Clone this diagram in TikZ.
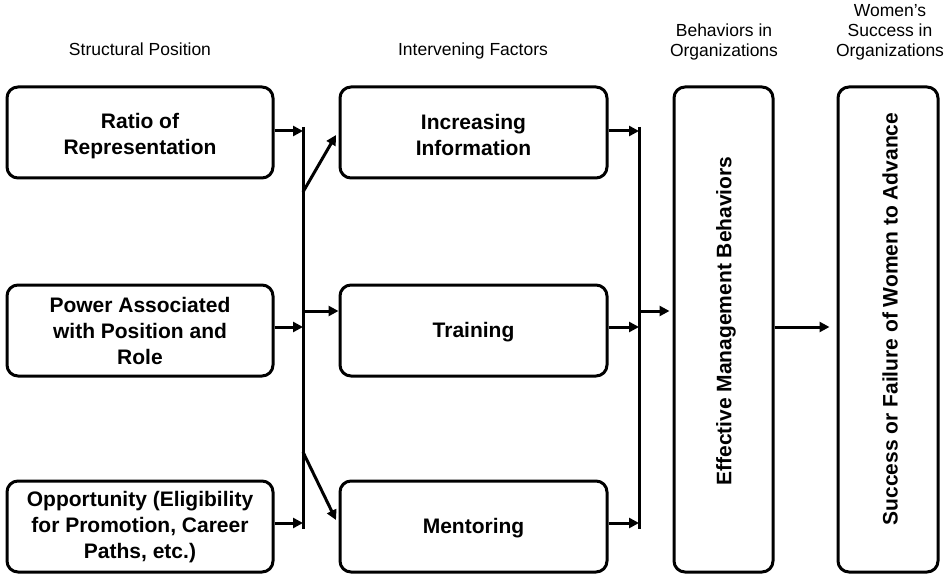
\documentclass[tikz,border=0pt]{standalone}
\usepackage{fontspec}
\setmainfont{Liberation Sans}
\usetikzlibrary{arrows.meta}
\begin{document}
\begin{tikzpicture}[x=1pt,y=-1pt,
  box/.style={draw=black,line width=3pt,rounded corners=11pt,align=center,
    font=\fontsize{21}{26}\selectfont\bfseries,inner sep=0pt},
  btxt/.style={font=\fontsize{21}{26}\selectfont\bfseries,align=center,inner sep=0pt},
  hdr/.style={align=center,font=\fontsize{17.5}{20}\selectfont,inner sep=0pt},
  ln/.style={line width=3pt},
  arr/.style={line width=3pt,-{Triangle[length=10pt,width=10pt]}}]
\useasboundingbox (0,0) rectangle (948,575);
% headers
\node[hdr,anchor=base] (h1) at (140,56) {Structural Position};
\node[hdr,anchor=base] (h2) at (473,56) {Intervening Factors};
\node[hdr,anchor=base] (h3) at (724,57) {Behaviors in\\Organizations};
\node[hdr,anchor=base] (h4) at (890,57) {Women’s\\Success in\\Organizations};
% left boxes
\node[box,minimum width=266pt,minimum height=91pt] (L1) at (140,132.5) {};
\node[btxt] (L1t) at (140,136) {Ratio of\\Representation};
\node[box,minimum width=266pt,minimum height=91pt] (L2) at (140,330.5) {};
\node[btxt] (L2t) at (140,331) {Power Associated\\with Position and\\Role};
\node[box,minimum width=266pt,minimum height=91pt] (L3) at (140,526.5) {};
\node[btxt] (L3t) at (140,527) {Opportunity (Eligibility\\for Promotion, Career\\Paths, etc.)};
% middle boxes
\node[box,minimum width=267pt,minimum height=91pt] (M1) at (473.5,132.5) {};
\node[btxt] (M1t) at (473.5,135) {Increasing\\Information};
\node[box,minimum width=267pt,minimum height=91pt] (M2) at (473.5,330.5) {};
\node[btxt] (M2t) at (473.5,332) {Training};
\node[box,minimum width=267pt,minimum height=91pt] (M3) at (473.5,526.5) {};
\node[btxt] (M3t) at (473.5,528) {Mentoring};
% tall boxes
\node[box,minimum width=99pt,minimum height=485pt] (E) at (723.5,329.5) {};
\node[btxt,rotate=90] (Et) at (726,321) {Effective Management Behaviors};
\node[box,minimum width=100pt,minimum height=485pt] (F) at (888,329.5) {};
\node[btxt,rotate=90] (Ft) at (890,319) {Success or Failure of Women to Advance};
% left junction
\coordinate (jLt) at (303,127);
\coordinate (jLb) at (303,529);
\draw[ln] (jLt) -- (jLb);
\draw[arr] (L1.east |- 0,131) -- (303,131);
\draw[arr] (L2.east |- 0,327) -- (303,327);
\draw[arr] (L3.east |- 0,523) -- (303,523);
\coordinate (dA) at (303,192);
\coordinate (dB) at (303,311);
\coordinate (dC) at (303,452);
\draw[arr] (dA) -- (336,135);
\draw[arr] (dB) -- (M2.west |- dB);
\draw[arr] (dC) -- (336,520);
% right junction
\coordinate (jRt) at (639,127);
\coordinate (jRb) at (639,529);
\draw[ln] (jRt) -- (jRb);
\draw[arr] (M1.east |- 0,131) -- (639,131);
\draw[arr] (M2.east |- 0,327) -- (639,327);
\draw[arr] (M3.east |- 0,523) -- (639,523);
\coordinate (rB) at (639,311);
\draw[arr,shorten >=3pt] (rB) -- (E.west |- rB);
\draw[arr,shorten >=7pt] (E.east |- 0,327) -- (F.west |- 0,327);
\end{tikzpicture}
\end{document}
